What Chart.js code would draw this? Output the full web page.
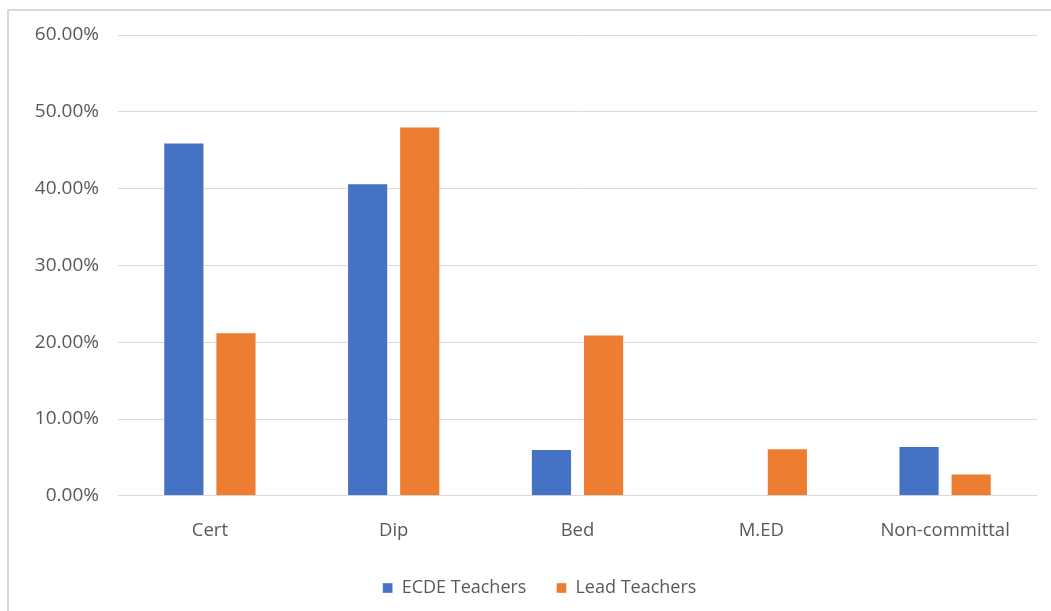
<!DOCTYPE html>
<html>
<head>
<meta charset="utf-8">
<script src="https://cdn.jsdelivr.net/npm/chart.js@4/dist/chart.umd.min.js"></script>
<style>
  html, body { margin: 0; padding: 0; background: #ffffff; }
  #wrap { position: relative; width: 1051px; height: 611px; overflow: hidden; }
  #frame { position: absolute; left: 7px; top: 9px; right: -4px; bottom: -4px;
           border-top: 2px solid #d9d9d9; border-left: 2px solid #d9d9d9; }
  canvas { position: absolute; left: 0; top: 0; }
</style>
</head>
<body>
<div id="wrap">
  <div id="frame"></div>
  <canvas id="chart" width="1051" height="611"></canvas>
</div>
<script>
// Qualification levels
const categories = ['Cert', 'Dip', 'Bed', 'M.ED', 'Non-committal'];
// Share of respondents per qualification (percent)
const ecdeTeachers = [46.0, 40.7, 6.1, 0, 6.5];
const leadTeachers = [21.3, 48.1, 21.0, 6.2, 2.9];
const seriesNames = ['ECDE Teachers', 'Lead Teachers'];
const yTicks = [0, 10, 20, 30, 40, 50, 60];

const textColor = '#595959';
const gridColor = '#d9d9d9';
const fontFamily = '"Open Sans", "Liberation Sans", sans-serif';

// Nudge the legend row to the right of the default centre
const legendShift = {
  id: 'legendShift',
  afterLayout(chart) {
    const lg = chart.legend;
    if (lg) { lg.left += 21; lg.right += 21; }
  }
};

new Chart(document.getElementById('chart'), {
  type: 'bar',
  data: {
    labels: categories,
    datasets: [
      { label: seriesNames[0], data: ecdeTeachers, backgroundColor: '#4472C4',
        borderColor: 'rgba(255,255,255,0.35)', borderWidth: 1 },
      { label: seriesNames[1], data: leadTeachers, backgroundColor: '#ED7D31',
        borderColor: 'rgba(255,255,255,0.35)', borderWidth: 1 }
    ]
  },
  plugins: [legendShift],
  options: {
    responsive: false,
    animation: false,
    devicePixelRatio: 1,
    datasets: { bar: { categoryPercentage: 0.567, barPercentage: 0.79 } },
    layout: { padding: { top: 35, right: 14, bottom: 4, left: 0 } },
    plugins: {
      tooltip: { enabled: false },
      legend: {
        position: 'bottom',
        labels: {
          color: textColor,
          font: { family: fontFamily, size: 18 },
          boxWidth: 10, boxHeight: 10, padding: 30
        }
      }
    },
    scales: {
      x: {
        afterFit: (scale) => { scale.height -= 17; },
        grid: { display: false, drawTicks: false },
        border: { display: false },
        ticks: { color: textColor, font: { family: fontFamily, size: 18.5 }, padding: 24 }
      },
      y: {
        min: 0, max: 60,
        afterFit: (scale) => { scale.width = 118; },
        afterBuildTicks: (scale) => { scale.ticks = yTicks.map(v => ({ value: v })); },
        grid: { color: gridColor, lineWidth: 1, drawTicks: false },
        border: { display: false },
        ticks: {
          color: textColor,
          font: { family: fontFamily, size: 19 },
          padding: 19,
          callback: (v) => v.toFixed(2) + '%'
        }
      }
    }
  }
});
</script>
</body>
</html>
